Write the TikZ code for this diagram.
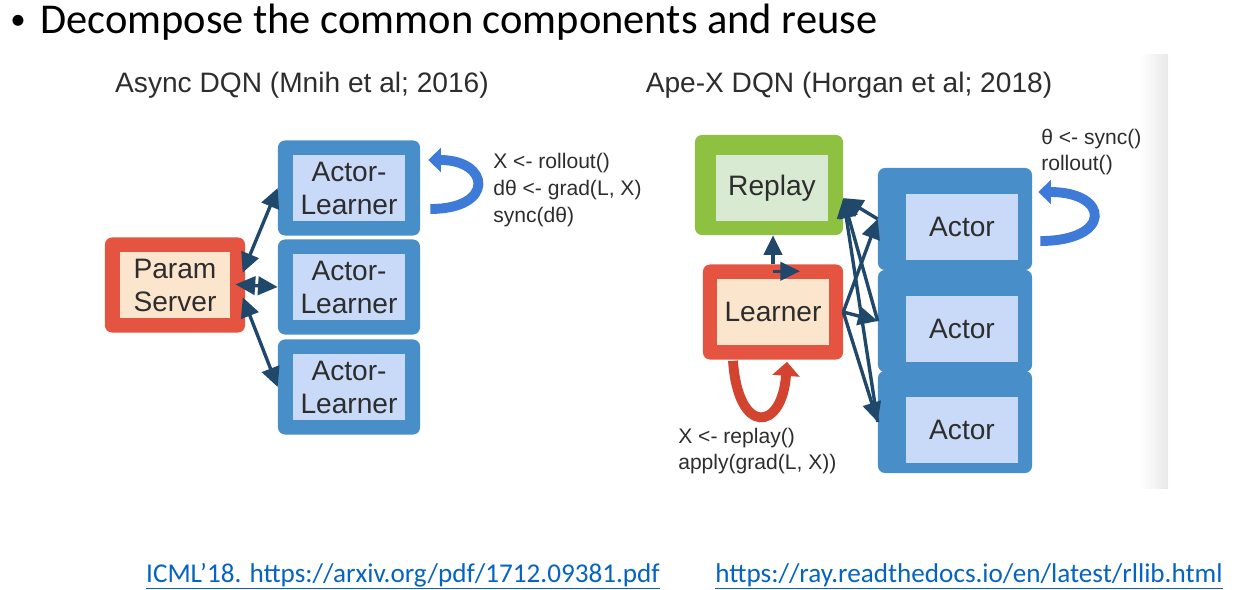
\documentclass[tikz,border=0pt]{standalone}
\usepackage{fontspec}
\setmainfont{Liberation Sans}
\newfontfamily\slidefont{Carlito}
\usetikzlibrary{positioning}
\usetikzlibrary{calc}
\usetikzlibrary{arrows.meta}

\definecolor{boxred}{RGB}{228,84,64}
\definecolor{peach}{RGB}{252,229,205}
\definecolor{boxblue}{RGB}{72,142,201}
\definecolor{paleblue}{RGB}{201,218,248}
\definecolor{boxgreen}{RGB}{142,192,66}
\definecolor{palegreen}{RGB}{217,234,211}
\definecolor{linkblue}{RGB}{5,99,193}
\definecolor{flowblue}{RGB}{31,72,106}
\definecolor{curlblue}{RGB}{62,122,216}
\definecolor{curlred}{RGB}{210,68,48}
\definecolor{inkgray}{RGB}{45,45,45}

\begin{document}
\begin{tikzpicture}[x=0.025cm, y=-0.025cm,
		outer/.style={rectangle, rounded corners=5pt, inner sep=0pt},
		inner/.style={rectangle, inner sep=0pt, minimum width=2.78cm, minimum height=1.66cm, align=center, text=inkgray, font=\fontsize{20}{23.5}\selectfont},
		flow/.style={draw=flowblue, line width=2.4pt, >={Triangle[length=14pt,width=13pt]}},
		bluecurl/.style={draw=curlblue, line width=7pt, -{Triangle[length=9pt,width=17pt]}},
		redcurl/.style={draw=curlred, line width=7pt, -{Triangle[length=10pt,width=19pt]}},
		code/.style={font=\fontsize{15}{19}\selectfont, align=left, anchor=west, inner sep=0pt, text=inkgray},
		head/.style={font=\fontsize{20}{24}\selectfont, text=inkgray, anchor=base, inner sep=0pt},
		weblink/.style={font=\slidefont\fontsize{19.3}{22}\selectfont, text=linkblue, anchor=base, inner sep=0pt}]
	\useasboundingbox (0,0) rectangle (1243,590);
	\shade[left color=white, right color=black!9] (1140,55) rectangle (1168,488);

	\node[font=\slidefont\fontsize{22}{26}\selectfont, inner sep=0pt] (bullet) at (18,22) {\textbullet};
	\node[font=\slidefont\fontsize{30.2}{36}\selectfont, anchor=base west, inner sep=0pt] (title) at (40,34) {Decompose the common components and reuse};

	\node[head] (asynchead) at (302,93) {Async DQN (Mnih et al; 2016)};
	\node[head] (apexhead) at (849,93) {Ape-X DQN (Horgan et al; 2018)};

	% Async DQN
	\node[outer, fill=boxred, minimum width=3.5cm, minimum height=2.375cm] (param) at (175,285) {};
	\node[inner, fill=peach, minimum width=2.75cm, minimum height=1.65cm] (paramtxt) at (175,285) {Param\\Server};
	\foreach \i/\y in {1/188,2/287,3/387} {
		\node[outer, fill=boxblue, minimum width=3.55cm, minimum height=2.375cm] (al\i) at (349,\y) {};
		\node[inner, fill=paleblue] (altxt\i) at (349,\y) {Actor-\\Learner};
	}
	\draw[flow,<->,shorten <=-5pt] (param.15) -- (al1.west);
	\draw[flow,<->,shorten <=-7pt] (param.east) -- (al2.west);
	\draw[flow,<->,shorten <=-5pt] (param.-15) -- (al3.west);
	\draw[bluecurl] ($(al1.east)+(10,21)$) .. controls +(65,0) and +(62,0) .. ($(al1.east)+(8,-28)$);
	\node[code] (asynccode) at (493,190) {X <- rollout()\\dθ <- grad(L, X)\\sync(dθ)};

	% Ape-X DQN
	\node[outer, fill=boxgreen, minimum width=3.7cm, minimum height=2.5cm] (replay) at (769,185) {};
	\node[inner, fill=palegreen] (replaytxt) at (772,188) {Replay};
	\node[outer, fill=boxred, minimum width=3.5cm, minimum height=2.375cm] (learner) at (773,312) {};
	\node[inner, fill=peach] (learnertxt) at (773,312) {Learner};
	\foreach \i/\y in {1/219,2/321,3/422} {
		\node[outer, fill=boxblue, minimum width=3.85cm, minimum height=2.55cm] (actor\i) at (955,\y) {};
	}
	\foreach \i/\y in {1/219,2/321,3/422} {
		\node[inner, fill=paleblue] (actortxt\i) at (962,\y+8) {Actor};
	}
	\draw[flow,->] (learner.north) -- (learner.north |- replay.south);
	\draw[flow,->] ([yshift=-5pt]learner.north) -- ++(27,0);
	\foreach \i in {1,2,3} {
		\draw[flow,->] (actor\i.west) -- (replay.-10);
		\draw[flow,->] (learner.east) -- (actor\i.west);
	}
	\draw[bluecurl] ($(actor1.east)+(8,22)$) .. controls +(72,0) and +(72,0) .. ($(actor1.east)+(6,-27)$);
	\draw[redcurl] ($(learner.south)+(-40,1)$) .. controls +(5,75) and +(-5,70) .. ($(learner.south)+(14,2)$);
	\node[code] (apexcode) at (1041,152) {θ <- sync()\\rollout()};
	\node[code] (learnercode) at (678,451) {X <- replay()\\apply(grad(L, X))};

	\node[weblink] (paperlink) at (403,582) {\underline{ICML’18. https://arxiv.org/pdf/1712.09381.pdf}};
	\node[weblink] (docslink) at (969,582) {\underline{https://ray.readthedocs.io/en/latest/rllib.html}};
\end{tikzpicture}
\end{document}
